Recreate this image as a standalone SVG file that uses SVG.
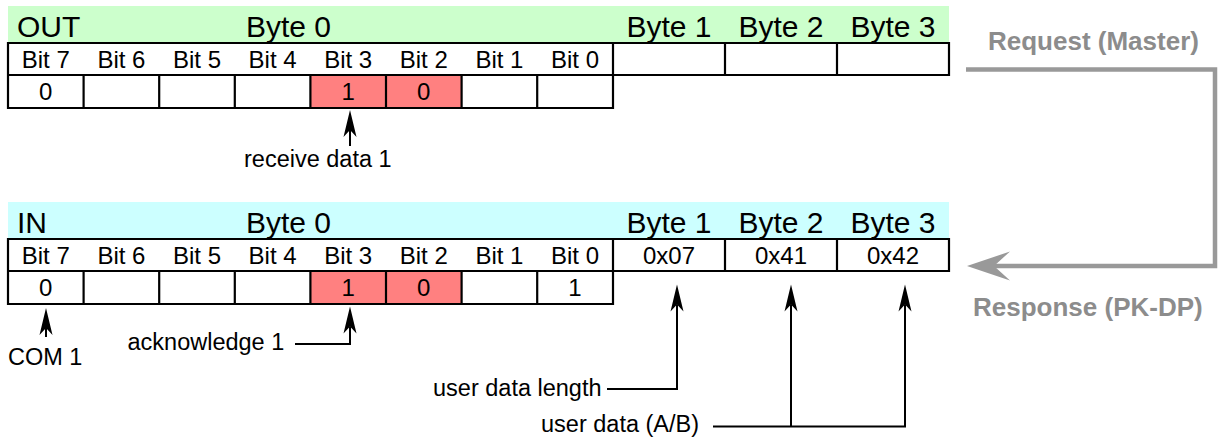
<svg xmlns="http://www.w3.org/2000/svg" width="1218" height="442" viewBox="0 0 1218 442">
  <style>
    text { font-family: "Liberation Sans", Arial, sans-serif; fill: #000; }
    .hdr { font-size: 30px; }
    .cell { font-size: 24px; text-anchor: middle; }
    .lbl { font-size: 23.5px; }
    .flow { font-size: 26px; font-weight: bold; fill: #8c8c8c; }
    .grid { fill: none; stroke: #000; stroke-width: 2.2; }
    .lead { fill: none; stroke: #000; stroke-width: 2; marker-end: url(#tip); }
    .wire { fill: none; stroke: #999; stroke-width: 4.5; }
  </style>
  <defs>
    <marker id="tip" viewBox="0 -7 28 14" markerUnits="userSpaceOnUse" markerWidth="28" markerHeight="14" refX="7" refY="0" orient="auto">
      <path d="M0,-6.5 L27,0 L0,6.5 L7,0 Z" fill="#000"/>
    </marker>
    <marker id="gtip" viewBox="0 -15 44 30" markerUnits="userSpaceOnUse" markerWidth="44" markerHeight="30" refX="16" refY="0" orient="auto">
      <path d="M0,-14.5 L43,0 L0,14.5 L16,0 Z" fill="#999"/>
    </marker>
  </defs>

  <!-- OUT telegram (master to slave) -->
  <g id="out-table">
    <rect x="8" y="6" width="941" height="37" fill="#ccffcc"/>
    <rect x="8" y="43" width="941" height="32" fill="#fff"/>
    <rect x="8" y="75" width="605" height="33" fill="#fff"/>
    <rect x="310.4" y="75" width="151.2" height="33" fill="#ff8080"/>
    <path class="grid" d="M8,43 H949 V75 H8 Z M613,43 V75 M725,43 V75 M837,43 V75 M8,75 V108 H613 V75 M83.6,75 V108 M159.2,75 V108 M234.8,75 V108 M310.4,75 V108 M386,75 V108 M461.6,75 V108 M537.2,75 V108"/>
    <text class="hdr" x="17" y="36.5">OUT</text>
    <text class="hdr" x="246" y="36.5">Byte 0</text>
    <text class="hdr" x="669" y="36.5" text-anchor="middle">Byte 1</text>
    <text class="hdr" x="781" y="36.5" text-anchor="middle">Byte 2</text>
    <text class="hdr" x="893" y="36.5" text-anchor="middle">Byte 3</text>
    <text class="cell" x="45.8" y="68">Bit 7</text>
    <text class="cell" x="121.4" y="68">Bit 6</text>
    <text class="cell" x="197" y="68">Bit 5</text>
    <text class="cell" x="272.6" y="68">Bit 4</text>
    <text class="cell" x="348.2" y="68">Bit 3</text>
    <text class="cell" x="423.8" y="68">Bit 2</text>
    <text class="cell" x="499.4" y="68">Bit 1</text>
    <text class="cell" x="575" y="68">Bit 0</text>
    <text class="cell" x="45.8" y="99.5">0</text>
    <text class="cell" x="348.2" y="99.5">1</text>
    <text class="cell" x="423.8" y="99.5">0</text>
  </g>

  <!-- IN telegram (slave response) -->
  <g id="in-table">
    <rect x="8" y="202" width="941" height="37" fill="#ccffff"/>
    <rect x="8" y="239" width="941" height="32" fill="#fff"/>
    <rect x="8" y="271" width="605" height="33" fill="#fff"/>
    <rect x="310.4" y="271" width="151.2" height="33" fill="#ff8080"/>
    <path class="grid" d="M8,239 H949 V271 H8 Z M613,239 V271 M725,239 V271 M837,239 V271 M8,271 V304 H613 V271 M83.6,271 V304 M159.2,271 V304 M234.8,271 V304 M310.4,271 V304 M386,271 V304 M461.6,271 V304 M537.2,271 V304"/>
    <text class="hdr" x="17" y="232.5">IN</text>
    <text class="hdr" x="246" y="232.5">Byte 0</text>
    <text class="hdr" x="669" y="232.5" text-anchor="middle">Byte 1</text>
    <text class="hdr" x="781" y="232.5" text-anchor="middle">Byte 2</text>
    <text class="hdr" x="893" y="232.5" text-anchor="middle">Byte 3</text>
    <text class="cell" x="45.8" y="264">Bit 7</text>
    <text class="cell" x="121.4" y="264">Bit 6</text>
    <text class="cell" x="197" y="264">Bit 5</text>
    <text class="cell" x="272.6" y="264">Bit 4</text>
    <text class="cell" x="348.2" y="264">Bit 3</text>
    <text class="cell" x="423.8" y="264">Bit 2</text>
    <text class="cell" x="499.4" y="264">Bit 1</text>
    <text class="cell" x="575" y="264">Bit 0</text>
    <text class="cell" x="669" y="264">0x07</text>
    <text class="cell" x="781" y="264">0x41</text>
    <text class="cell" x="893" y="264">0x42</text>
    <text class="cell" x="45.8" y="295.5">0</text>
    <text class="cell" x="348.2" y="295.5">1</text>
    <text class="cell" x="423.8" y="295.5">0</text>
    <text class="cell" x="575" y="295.5">1</text>
  </g>

  <!-- annotation labels -->
  <g id="labels">
    <text class="lbl" x="244" y="166.5">receive data 1</text>
    <text class="lbl" x="127.5" y="350">acknowledge 1</text>
    <text class="lbl" x="8" y="365">COM 1</text>
    <text class="lbl" x="433" y="395.5">user data length</text>
    <text class="lbl" x="541" y="432">user data (A/B)</text>
    <text class="flow" x="988" y="49.5">Request (Master)</text>
    <text class="flow" x="973" y="316">Response (PK-DP)</text>
  </g>

  <!-- connectors -->
  <g id="connectors">
    <path class="lead" d="M350,146 V130"/>
    <path class="lead" d="M46,337 V328"/>
    <path class="lead" d="M295,344 H350 V326.5"/>
    <path class="lead" d="M607,389 H677 V304.5"/>
    <path class="lead" d="M713,426.5 H905 V304.5"/>
    <path class="lead" d="M791,426.5 V304.5"/>
    <path class="wire" d="M966,69.5 H1215 V266 H994" marker-end="url(#gtip)"/>
  </g>
</svg>
